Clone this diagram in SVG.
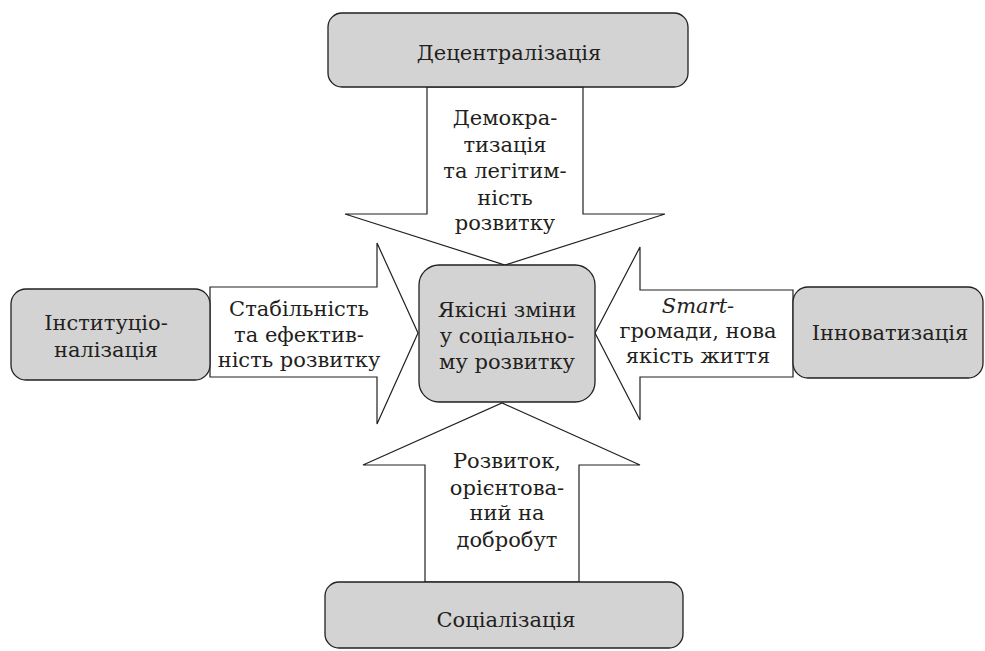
<svg xmlns="http://www.w3.org/2000/svg" width="985" height="651" viewBox="0 0 985 651">
<style>
.box{fill:#d3d3d3;stroke:#231f20;stroke-width:1.3}
.arr{fill:#ffffff;stroke:#231f20;stroke-width:1.2;stroke-linejoin:miter}
.t{font-family:'DejaVu Serif',serif;font-size:21px;fill:#231f20;text-anchor:middle}
</style>
<rect width="985" height="651" fill="#ffffff"/>
<g id="connectors">
<polygon class="arr" points="427,87 427,214 345,214 505,265 665,214 583,214 583,87"/>
<polygon class="arr" points="210,287 377,287 377,243 418,333 377,424 377,377 210,377"/>
<polygon class="arr" points="793,290 640,290 640,247 595,333 640,420 640,377 793,377"/>
<polygon class="arr" points="425,582 425,465 363,465 502,403 640,465 579,465 579,582"/>
<g class="t">
<text x="505" y="125">Демокра-</text>
<text x="505" y="152">тизація</text>
<text x="505" y="178">та легітим-</text>
<text x="505" y="205">ність</text>
<text x="505" y="230">розвитку</text>
<text x="299" y="316">Стабільність</text>
<text x="299" y="342">та ефектив-</text>
<text x="299" y="367">ність розвитку</text>
<text x="698" y="313" font-style="italic">Smart-</text>
<text x="698" y="338">громади, нова</text>
<text x="698" y="363">якість життя</text>
<text x="507" y="468">Розвиток,</text>
<text x="507" y="495">орієнтова-</text>
<text x="507" y="520">ний на</text>
<text x="507" y="547">добробут</text>
</g>
</g>
<g id="decentralization">
<rect class="box" x="328" y="13" width="360" height="74" rx="14"/>
<text class="t" x="509" y="60">Децентралізація</text>
</g>
<g id="institutionalization">
<rect class="box" x="11" y="289" width="199" height="91" rx="15"/>
<text class="t" x="106" y="330">Інституціо-</text>
<text class="t" x="106" y="357">налізація</text>
</g>
<g id="center">
<rect class="box" x="419" y="265" width="176" height="137" rx="20"/>
<text class="t" x="507" y="317">Якісні зміни</text>
<text class="t" x="507" y="343">у соціально-</text>
<text class="t" x="507" y="369">му розвитку</text>
</g>
<g id="innovatization">
<rect class="box" x="793" y="287" width="190" height="91" rx="15"/>
<text class="t" x="890" y="340">Інноватизація</text>
</g>
<g id="socialization">
<rect class="box" x="325" y="582" width="358" height="66" rx="14"/>
<text class="t" x="506" y="627">Соціалізація</text>
</g>
</svg>
